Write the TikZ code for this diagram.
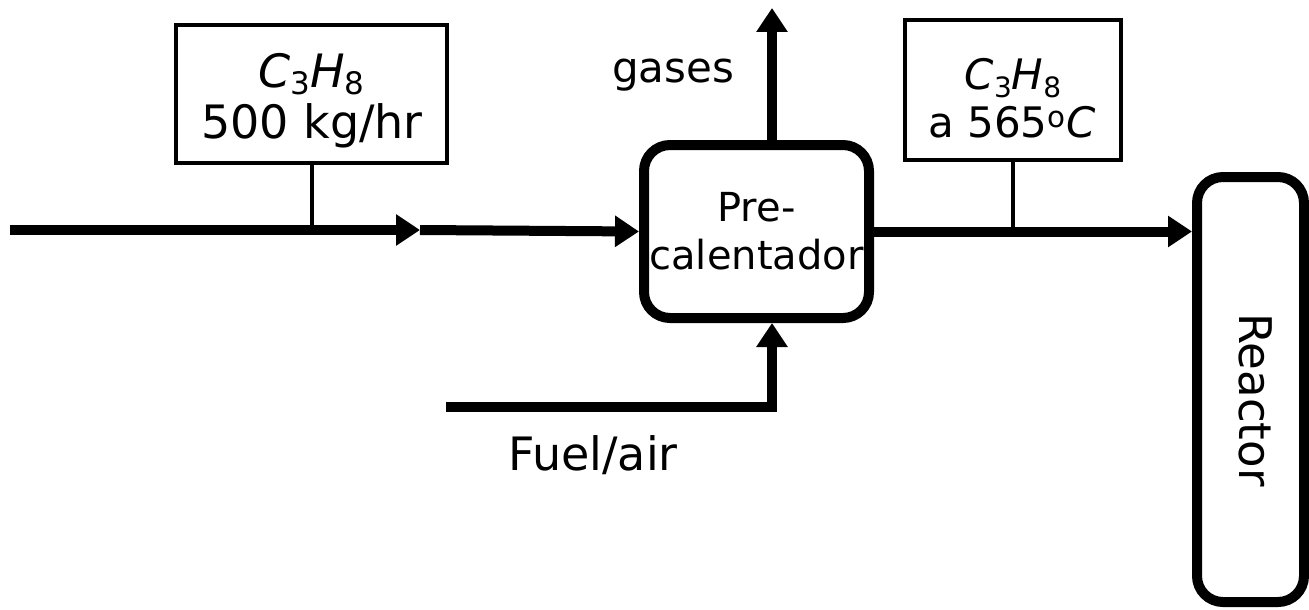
\documentclass[tikz,border=0pt]{standalone}
\usepackage{fontspec}
\setmainfont{DejaVu Sans}
\usetikzlibrary{arrows.meta}
\newcommand\chemsub[2]{\raisebox{-8pt}{\fontsize{#1}{#1}\selectfont #2}}
\tikzset{
  thick line/.style={line width=10pt},
  thin line/.style={line width=4pt},
  tip/.style={-{Triangle[length=24pt,width=30pt]}},
  labelbox/.style={draw, line width=4pt, inner sep=0pt},
  unit/.style={draw, line width=10pt, rounded corners=26pt, inner sep=0pt},
  txt/.style={inner sep=0pt},
  boxline/.style={inner sep=0pt, anchor=base},
}
\begin{document}
\begin{tikzpicture}[x=1pt,y=-1pt]
\useasboundingbox (0,0) rectangle (1309,610);
\node[labelbox, minimum width=271pt, minimum height=138pt] (box1) at (311.5,94) {};
\node[boxline, font=\fontsize{46}{50}\selectfont] (box1a) at (311.5,87) {\textit{C}\chemsub{31}{3}\textit{H}\chemsub{31}{8}};
\node[boxline, font=\fontsize{46}{50}\selectfont] (box1b) at (312,138) {500 kg/hr};
\node[labelbox, minimum width=216pt, minimum height=140pt] (box2) at (1013,90) {};
\node[boxline, font=\fontsize{42}{46}\selectfont] (box2a) at (1013,89) {\textit{C}\chemsub{28}{3}\textit{H}\chemsub{28}{8}};
\node[boxline, font=\fontsize{42}{46}\selectfont] (box2b) at (1012,137) {a 565\textsuperscript{o}\textit{C}};
\node[unit, minimum width=225pt, minimum height=173pt, align=center, font=\fontsize{40}{48}\selectfont] (precal) at (756.5,231.5) {Pre-\\calentador};
\node[unit, minimum width=107pt, minimum height=425pt] (reactor) at (1250.5,389.5) {};
\node[txt, rotate=-90, font=\fontsize{45}{50}\selectfont] (reactortext) at (1256,400) {Reactor};
\node[txt, font=\fontsize{42}{50}\selectfont] (gases) at (673,75) {gases};
\node[txt, font=\fontsize{46}{50}\selectfont] (fuel) at (593,455) {Fuel/air};
\coordinate (start) at (10,230);
\coordinate (mid) at (420,230);
\coordinate (gastop) at (772,8);
\coordinate (fuelstart) at (446,407);
\draw[thick line, tip] (start) -- (mid);
\draw[thick line, tip] (mid) -- (precal.west);
\draw[thin line] (box1.south) -- (box1.south |- start);
\draw[thick line, tip] (precal.east) -- (reactor.west |- precal.east);
\draw[thin line] (box2.south) -- (box2.south |- precal.east);
\draw[thick line, tip] (gastop |- precal.north) -- (gastop);
\draw[thick line, tip] (fuelstart) -- (fuelstart -| gastop) -- (gastop |- precal.south);
\end{tikzpicture}
\end{document}
